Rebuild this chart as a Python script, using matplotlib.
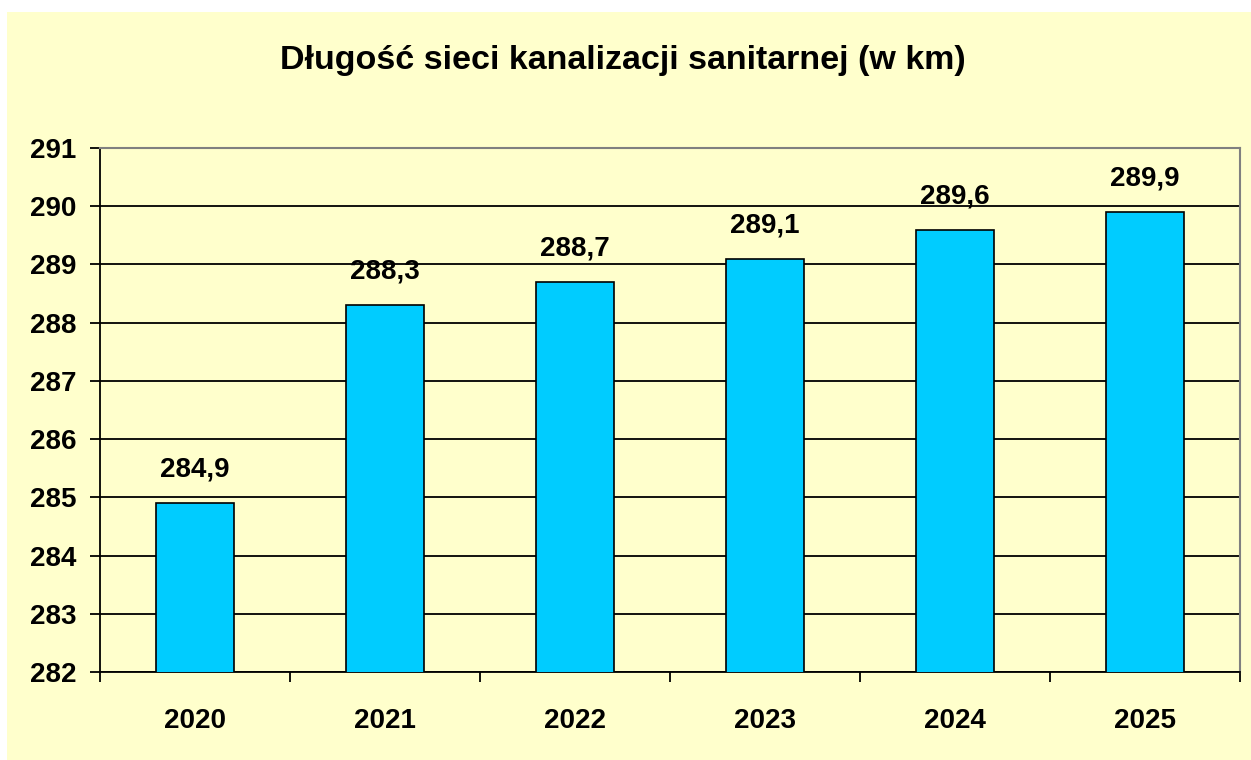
import matplotlib.pyplot as plt
from matplotlib.patches import Rectangle
from matplotlib.ticker import FixedLocator

# dane
years = ["2020", "2021", "2022", "2023", "2024", "2025"]
lengths = [284.9, 288.3, 288.7, 289.1, 289.6, 289.9]
y_ticks = [282, 283, 284, 285, 286, 287, 288, 289, 290, 291]

plt.rcParams['font.family'] = ['Liberation Sans', 'DejaVu Sans']
plt.rcParams['font.weight'] = 'bold'

fig = plt.figure(figsize=(12.51, 7.60), dpi=100, facecolor='white')
# żółte tło wykresu
fig.patches.append(Rectangle((7 / 1251, 0), 1 - 7 / 1251, 1 - 12 / 760,
                             transform=fig.transFigure, facecolor='#FFFFCC',
                             edgecolor='none', zorder=-10))

ax = fig.add_axes([100 / 1251, 88 / 760, 1140 / 1251, 524 / 760])
ax.set_facecolor('#FFFFCC')

x = list(range(len(years)))
bars = ax.bar(x, lengths, width=0.41, bottom=0, color='#00CCFF',
              edgecolor='black', linewidth=1.2, zorder=3)

for xi, v in zip(x, lengths):
    ax.annotate(f"{v:.1f}".replace('.', ','), (xi, v), xytext=(0, 24),
                textcoords='offset points', ha='center', va='center',
                fontsize=20, fontweight='bold', zorder=4)

ax.set_ylim(282, 291)
ax.set_xlim(-0.5, len(years) - 0.5)
ax.set_yticks(y_ticks)
ax.set_yticklabels([str(t) for t in y_ticks], fontsize=20, fontweight='bold')
ax.yaxis.grid(True, color='black', linewidth=1.3, zorder=1)
ax.set_axisbelow(True)

# etykiety lat w środku, kreski na granicach kategorii
ax.set_xticks(x)
ax.set_xticklabels(years, fontsize=20, fontweight='bold')
ax.tick_params(axis='x', which='major', length=0, pad=26)
ax.xaxis.set_minor_locator(FixedLocator([i - 0.5 for i in range(len(years) + 1)]))
ax.tick_params(axis='x', which='minor', length=7, width=1.3, color='black')
ax.tick_params(axis='y', length=7, width=1.3, pad=10, colors='black')

ax.spines['left'].set_color('black')
ax.spines['bottom'].set_color('black')
ax.spines['left'].set_linewidth(1.3)
ax.spines['bottom'].set_linewidth(1.3)
ax.spines['top'].set_color('#808080')
ax.spines['right'].set_color('#808080')
ax.spines['top'].set_linewidth(1.5)
ax.spines['right'].set_linewidth(1.5)

fig.text(623 / 1251, 1 - 60 / 760, 'Długość sieci kanalizacji sanitarnej (w km)',
         ha='center', va='center', fontsize=24.5, fontweight='bold')

fig.savefig('out.png', dpi=100, facecolor=fig.get_facecolor())
